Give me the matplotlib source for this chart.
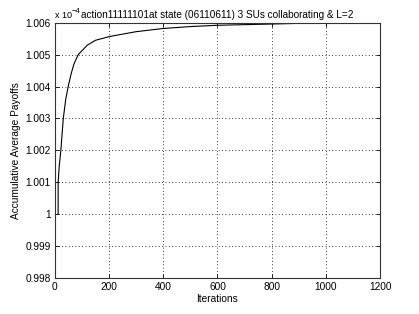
import matplotlib
matplotlib.use("Agg")
import matplotlib.pyplot as plt
from matplotlib.ticker import FuncFormatter

iterations = [12, 12, 16, 22, 31, 40, 49, 60, 70, 86, 120, 150, 203, 300, 400, 500, 600, 700, 800, 900, 1000]
payoffs = [1.0, 1.001, 1.0015, 1.002, 1.003, 1.0036, 1.004, 1.0044, 1.0047, 1.005, 1.0053, 1.00545, 1.00557,
           1.00572, 1.00582, 1.00588, 1.00592, 1.00594, 1.00596, 1.00598, 1.006]
xticks = [0, 200, 400, 600, 800, 1000, 1200]
yticks = [0.998, 0.999, 1.0, 1.001, 1.002, 1.003, 1.004, 1.005, 1.006]

plt.rcParams['font.family'] = ['Liberation Sans', 'DejaVu Sans']
fig = plt.figure(figsize=(4.19, 3.14), dpi=100)
ax = fig.add_axes([0.131, 0.1146, 0.776, 0.813])
ax.plot(iterations, payoffs, color='black', lw=0.8)
ax.set_xlim(0, 1200)
ax.set_ylim(0.998, 1.006)
ax.set_xticks(xticks)
ax.set_yticks(yticks)
ax.yaxis.set_major_formatter(FuncFormatter(lambda v, p: ('%.3f' % v).rstrip('0').rstrip('.')))
ax.grid(True, color='black', linestyle=(0, (1, 3)), lw=0.6)
ax.tick_params(direction='in', top=True, right=True, labelsize=7.3, length=3, width=0.6, pad=3)
for s in ax.spines.values():
    s.set_linewidth(0.8)
    s.set_color('#333333')
ax.set_xlabel('Iterations', fontsize=7.3, labelpad=1)
ax.set_ylabel('Accumulative Average Payoffs', fontsize=7.3, labelpad=3)
fig.text(0.131, 0.935, 'x 10', fontsize=6.5, ha='left', va='bottom')
fig.text(0.171, 0.952, '\u2212' + '4', fontsize=5.5, ha='left', va='bottom')
fig.text(0.194, 0.935, 'action11111101at state (06110611) 3 SUs collaborating & L=2', fontsize=7.2, ha='left', va='bottom')
fig.savefig('out.png', dpi=100)
